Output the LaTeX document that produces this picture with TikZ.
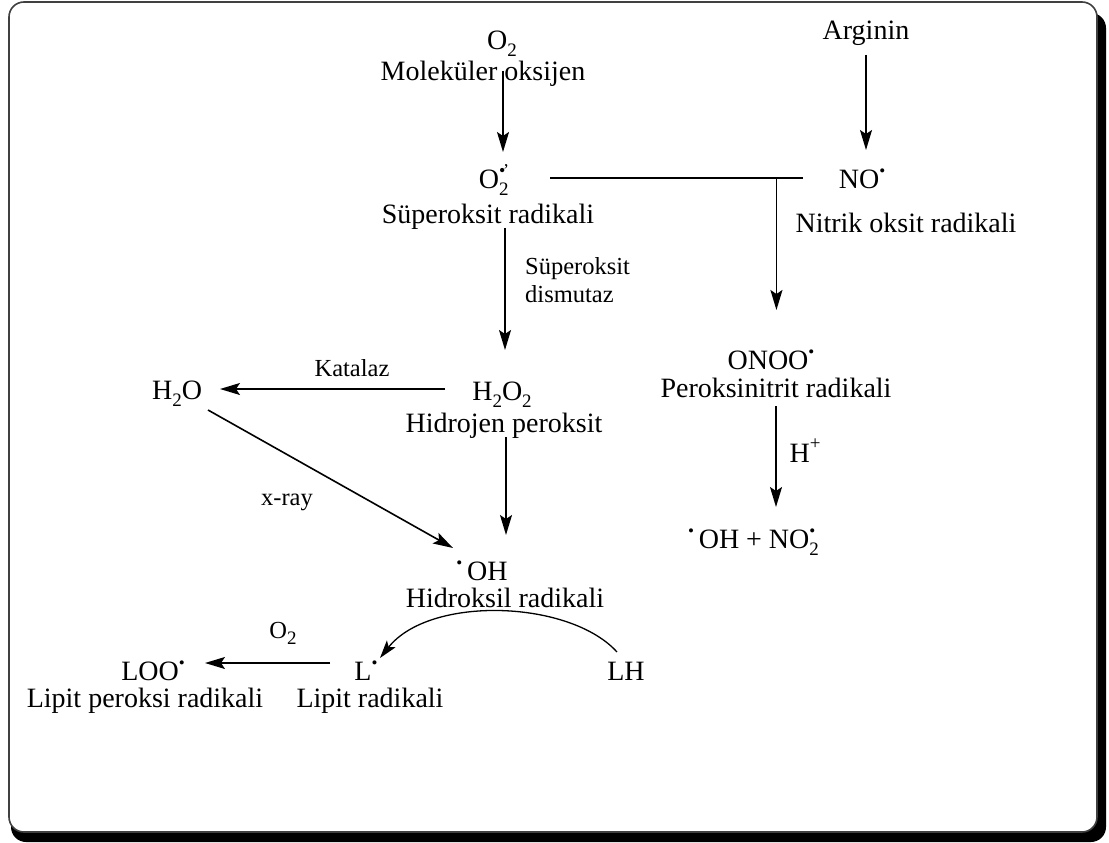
\documentclass[tikz,border=0pt]{standalone}
\usepackage{fontspec}
\setmainfont{Liberation Serif}
\usetikzlibrary{arrows.meta}
\newcommand{\rd}{\raisebox{0.42em}{\fontsize{17}{17}\selectfont\textbullet}}
\newcommand{\sbs}[1]{\raisebox{-0.27em}{\fontsize{19}{19}\selectfont #1}}
\newcommand{\sps}[1]{\raisebox{0.45em}{\fontsize{19}{19}\selectfont #1}}
\newcommand{\sbrd}[1]{\rlap{\sbs{#1}}\rd}
\begin{document}
\begin{tikzpicture}[x=1pt,y=1pt,
  lbl/.style={inner sep=0pt, anchor=base, font=\fontsize{28}{30}\selectfont},
  sml/.style={inner sep=0pt, anchor=base, font=\fontsize{24.5}{28}\selectfont},
  ln/.style={line width=1.6pt},
  arr/.style={line width=1.6pt, -{Stealth[length=20pt,width=12pt,inset=4pt]}}]
\useasboundingbox (0,0) rectangle (1109,-843);
% frame with shadow
\fill[black, rounded corners=15pt] (11,-13) rectangle (1106,-842);
\draw[fill=white, draw=black!75, line width=1.6pt, rounded corners=15pt] (9,-2) rectangle (1097,-832);
% nodes
\node[lbl] (o2) at (502,-50) {O\raisebox{-0.22em}{\fontsize{19}{19}\selectfont 2}};
\node[lbl] (mol) at (483,-81) {Moleküler oksijen};
\node[lbl] (arg) at (866,-40) {Arginin};
\node[lbl] (sup) at (494,-188) {O\rlap{\sbs{2}}\raisebox{0.4em}{\fontsize{18}{18}\selectfont\textbullet\kern-0.12em’}};
\node[lbl] (supn) at (488,-223) {Süperoksit radikali};
\node[lbl] (no) at (862,-188) {NO\rd};
\node[lbl] (non) at (906,-232) {Nitrik oksit radikali};
\node[sml, anchor=north west, align=left] (sod) at (525,-257) {Süperoksit\\dismutaz};
\node[lbl] (h2o2) at (502,-400) {H\sbs{2}O\sbs{2}};
\node[lbl] (hp) at (504,-432) {Hidrojen peroksit};
\node[lbl] (h2o) at (177,-399) {H\sbs{2}O};
\node[sml] (kat) at (352,-376) {Katalaz};
\node[sml] (xray) at (287,-505) {x-ray};
\node[lbl] (oh) at (482,-580) {\rd\,OH};
\node[lbl] (ohn) at (505,-607) {Hidroksil radikali};
\node[lbl] (onoo) at (771,-369) {ONOO\rd};
\node[lbl] (onoon) at (776,-397) {Peroksinitrit radikali};
\node[lbl] (hplus) at (805,-462) {H\sps{+}};
\node[lbl] (prod) at (756,-548) {\rd\,OH + NO\sbrd{2}\kern0.3em};
\node[sml] (o2b) at (283,-638) {O\sbs{2}};
\node[lbl] (loo) at (153,-680) {LOO\rd};
\node[lbl] (loon) at (145,-707) {Lipit peroksi radikali};
\node[lbl] (l) at (366,-680) {L\rd};
\node[lbl] (lnm) at (370,-707) {Lipit radikali};
\node[lbl] (lh) at (626,-680) {LH};
% connectors
\draw[arr] ([xshift=20pt,yshift=10pt]mol.base) -- ([xshift=9pt,yshift=36pt]sup.base);
\draw[arr] ([yshift=-15pt]arg.base) -- ([xshift=4pt,yshift=38pt]no.base);
\draw[ln] ([xshift=56pt,yshift=10pt]sup.base) -- coordinate[pos=0.895] (j) ([xshift=-59pt,yshift=10pt]no.base);
\draw[arr] (j) -- ([yshift=59pt]j |- onoo.base);
\draw[arr] ([xshift=17pt,yshift=-5pt]supn.base) -- ([xshift=3pt,yshift=50pt]h2o2.base);
\draw[arr] ([xshift=-57pt,yshift=11pt]h2o2.base) -- ([xshift=43pt,yshift=10pt]h2o.base);
\draw[arr] ([xshift=31pt,yshift=-11pt]h2o.base) -- ([xshift=-29pt,yshift=32pt]oh.base);
\draw[arr] ([xshift=2pt,yshift=-5pt]hp.base) -- ([xshift=24pt,yshift=45pt]oh.base);
\draw[arr] ([yshift=-9pt]onoon.base) -- ([xshift=20pt,yshift=41pt]prod.base);
\draw[arr] ([xshift=-36pt,yshift=17pt]l.base) -- ([xshift=52pt,yshift=17pt]loo.base);
\draw[line width=1.3pt, -{Stealth[length=18pt,width=11pt,inset=4pt]}] ([xshift=-9pt,yshift=28pt]lh.base) .. controls (570,-600) and (430,-595) .. ([xshift=14pt,yshift=22pt]l.base);
\end{tikzpicture}
\end{document}
